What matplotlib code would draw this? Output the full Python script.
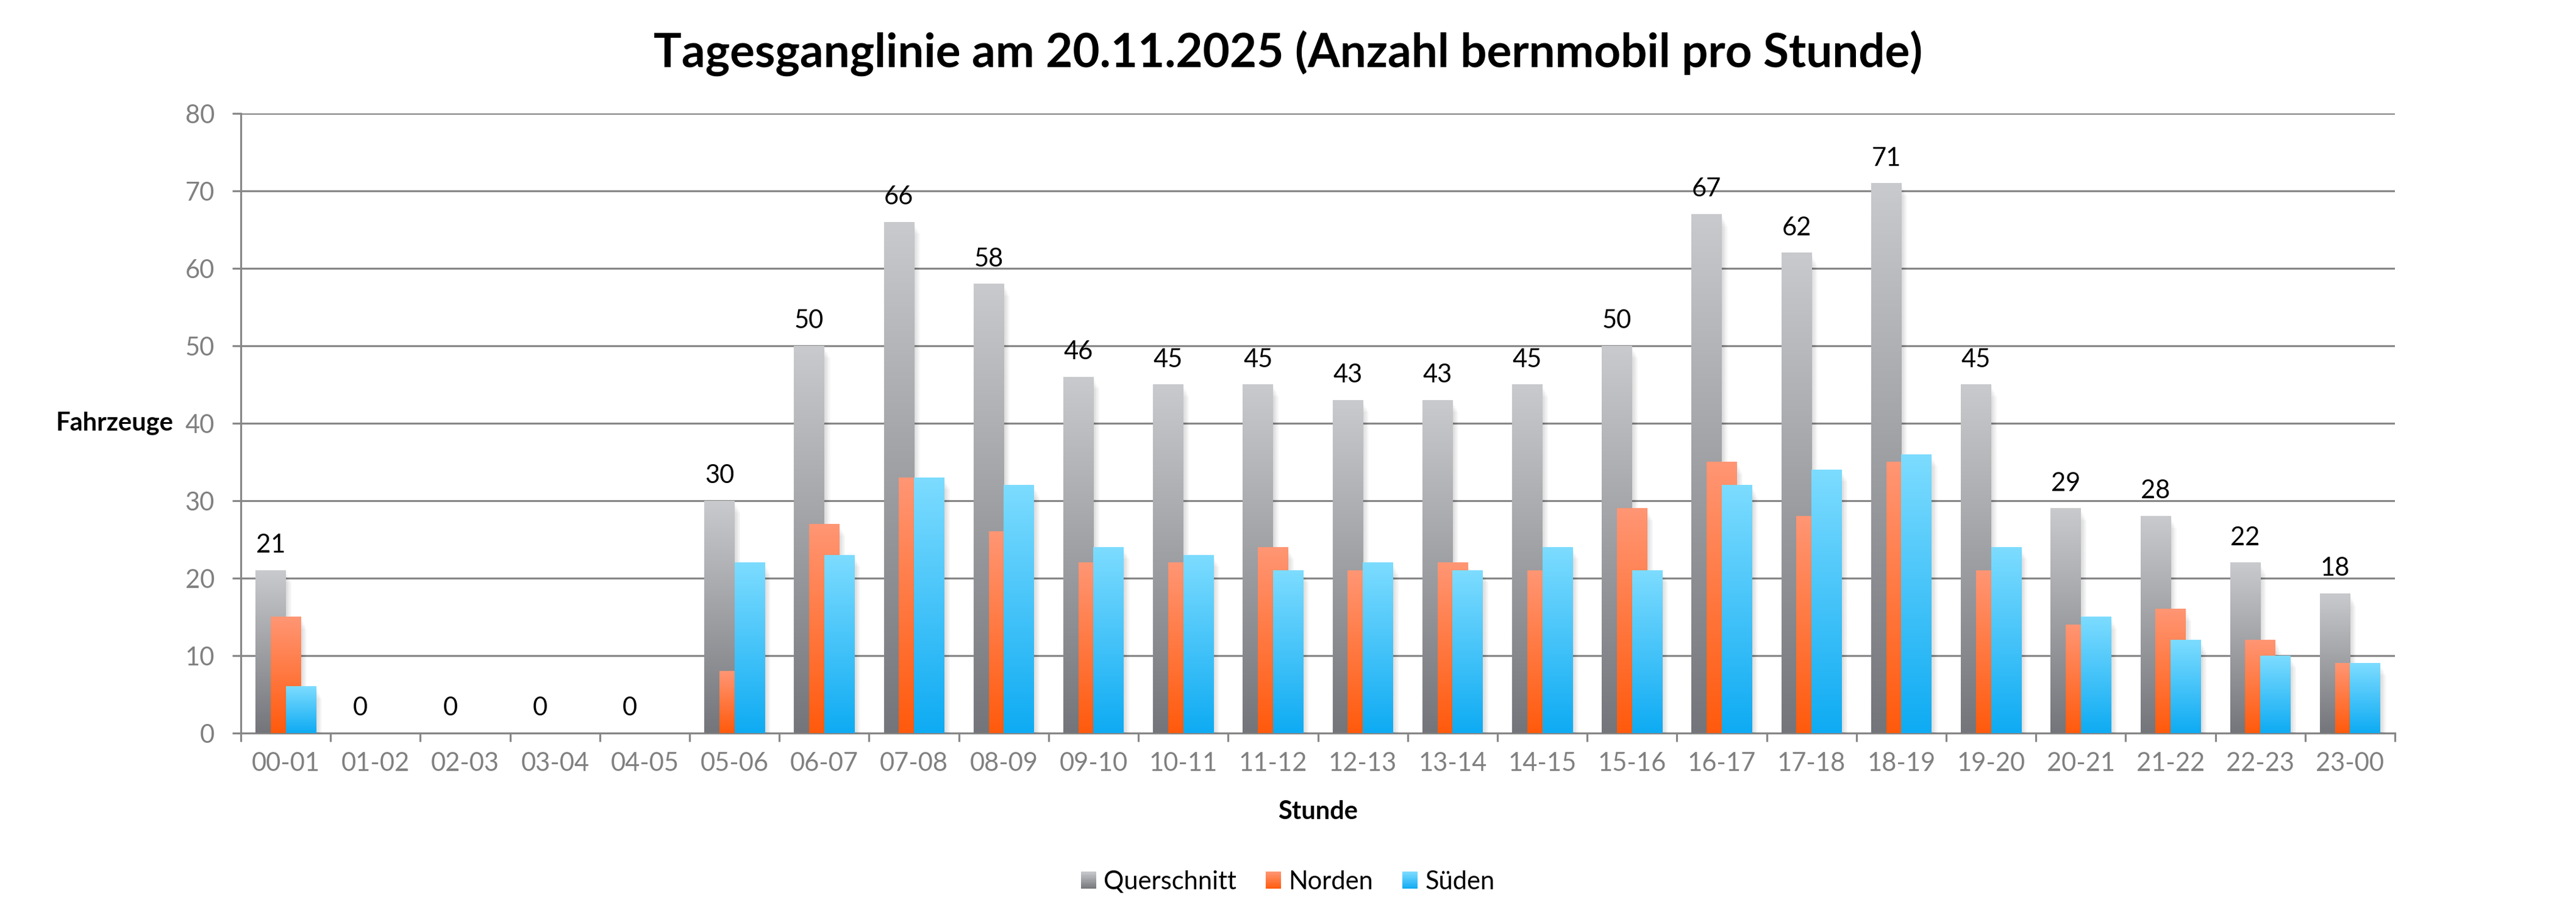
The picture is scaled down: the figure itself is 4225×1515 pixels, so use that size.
import matplotlib
matplotlib.use("Agg")
import matplotlib.pyplot as plt
import numpy as np
from matplotlib.colors import to_rgb
from matplotlib.legend_handler import HandlerBase
from matplotlib.patches import Rectangle

plt.rcParams['font.family'] = ['Lato', 'DejaVu Sans']

stunden = ["00-01", "01-02", "02-03", "03-04", "04-05", "05-06", "06-07", "07-08",
           "08-09", "09-10", "10-11", "11-12", "12-13", "13-14", "14-15", "15-16",
           "16-17", "17-18", "18-19", "19-20", "20-21", "21-22", "22-23", "23-00"]
querschnitt = [21, 0, 0, 0, 0, 30, 50, 66, 58, 46, 45, 45, 43, 43, 45, 50, 67, 62, 71, 45, 29, 28, 22, 18]
norden = [15, 0, 0, 0, 0, 8, 27, 33, 26, 22, 22, 24, 21, 22, 21, 29, 35, 28, 35, 21, 14, 16, 12, 9]
sueden = [6, 0, 0, 0, 0, 22, 23, 33, 32, 24, 23, 21, 22, 21, 24, 21, 32, 34, 36, 24, 15, 12, 10, 9]

# top / bottom colours of the gradients
farben = {
    "Querschnitt": ("#c9cacd", "#73757a"),
    "Norden": ("#ff9674", "#ff5a0c"),
    "Süden": ("#7ddcff", "#0eabf3"),
}
grid_col = "#878787"
tick_col = "#808080"


def gradient(top, bottom, n=256):
    t = np.linspace(0, 1, n)[:, None, None]
    b = np.array(to_rgb(bottom))[None, None, :]
    a = np.array(to_rgb(top))[None, None, :]
    return b + (a - b) * t


def fill_bars(ax, bars, top, bottom, z):
    img = gradient(top, bottom)
    for p in bars:
        h = p.get_height()
        if h <= 0:
            continue
        x0 = p.get_x()
        w = p.get_width()
        # soft shadow to the right
        for k in range(1, 7):
            ax.add_patch(Rectangle((x0 + k * 0.011, 0), w, h - 0.25 * k,
                                   facecolor="black", alpha=0.022, lw=0, zorder=z - 0.5))
        ax.imshow(img, extent=[x0, x0 + w, 0, h], origin="lower",
                  aspect="auto", interpolation="bilinear", zorder=z)


class GradHandler(HandlerBase):
    def __init__(self, top, bottom):
        super().__init__()
        self.top = top
        self.bottom = bottom

    def create_artists(self, legend, orig_handle, xdescent, ydescent,
                       width, height, fontsize, trans):
        arts = []
        n = 12
        c0 = np.array(to_rgb(self.bottom))
        c1 = np.array(to_rgb(self.top))
        for i in range(n):
            col = c0 + (c1 - c0) * (i + 0.5) / n
            r = Rectangle((-xdescent, -ydescent + i * height / n), width, height / n + 0.3,
                          facecolor=col, lw=0, transform=trans)
            arts.append(r)
        return arts


fig = plt.figure(figsize=(42.25, 15.15), dpi=100)
ax = fig.add_axes([0.0935, 0.2066, 0.8362, 0.6703])

x = np.arange(len(stunden))
bw = 0.336
qb = ax.bar(x - 0.168, querschnitt, bw, color="none", lw=0)
nb = ax.bar(x, norden, bw, color="none", lw=0)
sb = ax.bar(x + 0.168, sueden, bw, color="none", lw=0)

fill_bars(ax, qb, *farben["Querschnitt"], z=3)
fill_bars(ax, nb, *farben["Norden"], z=4)
fill_bars(ax, sb, *farben["Süden"], z=5)

ax.bar_label(qb, padding=16, fontsize=30, color="black", zorder=6)

ax.set_xlim(-0.5, len(stunden) - 0.5)
ax.set_ylim(0, 80)
ax.set_yticks(np.arange(0, 81, 10))
ax.set_xticks(x)
ax.set_xticklabels(stunden)
ax.set_xticks(np.arange(-0.5, len(stunden)), minor=True)

ax.set_axisbelow(True)
ax.grid(axis="y", color=grid_col, lw=2.3)
for s in ["top", "right"]:
    ax.spines[s].set_visible(False)
for s in ["left", "bottom"]:
    ax.spines[s].set_color(grid_col)
    ax.spines[s].set_linewidth(2.3)

ax.tick_params(axis="y", length=10, width=2.3, color=grid_col, labelcolor=tick_col,
               labelsize=30, pad=21)
ax.tick_params(axis="x", which="major", length=0, labelcolor=tick_col, labelsize=30, pad=22)
ax.tick_params(axis="x", which="minor", length=10, width=2.3, color=grid_col)

ax.set_ylabel("Fahrzeuge", rotation=0, fontsize=30, fontweight="bold", ha="right", va="center")
ax.yaxis.set_label_coords(-0.0314, 0.5)
ax.set_xlabel("Stunde", fontsize=30, fontweight="bold", va="center")
ax.xaxis.set_label_coords(0.5, -0.127)

fig.suptitle("Tagesganglinie am 20.11.2025 (Anzahl bernmobil pro Stunde)",
             fontsize=55, fontweight="bold", y=1 - 87 / 1515, va="center")

handles = [Rectangle((0, 0), 1, 1) for _ in range(3)]
names = ["Querschnitt", "Norden", "Süden"]
fig.legend(handles, names, loc="center", bbox_to_anchor=(0.5, 1 - 1446 / 1515), ncol=3,
           frameon=False, fontsize=30, handlelength=0.6, handleheight=0.65,
           handletextpad=0.3, columnspacing=1.15,
           handler_map={h: GradHandler(*farben[n]) for h, n in zip(handles, names)})

fig.savefig("out.png", dpi=100)
